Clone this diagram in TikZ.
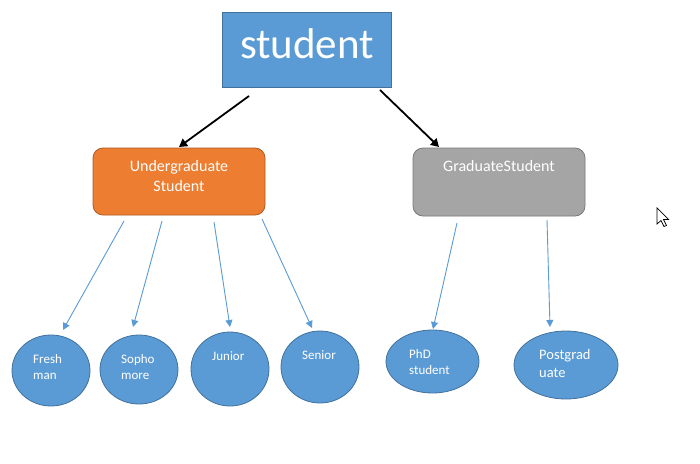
\documentclass[tikz,border=0pt]{standalone}
\usepackage{fontspec}
\setmainfont{Carlito}
\usetikzlibrary{shapes.geometric,arrows.meta}
\definecolor{obl}{HTML}{5B9BD5}
\definecolor{oblb}{HTML}{41719C}
\definecolor{oor}{HTML}{ED7D31}
\definecolor{oorb}{HTML}{AE5A21}
\definecolor{ogr}{HTML}{A5A5A5}
\definecolor{ogrb}{HTML}{787878}
\tikzset{
  ebox/.style={ellipse, draw=oblb, fill=obl, line width=0.8pt, inner sep=0pt},
  etext/.style={text=white, align=left, anchor=west, inner sep=0pt, font=\fontsize{13}{16}\selectfont},
  blarrow/.style={draw=obl, line width=0.9pt, -{Triangle[length=7pt,width=7pt]}},
  bkarrow/.style={draw=black, line width=1.8pt, -{Triangle[length=8pt,width=9pt]}},
}
\begin{document}
\begin{tikzpicture}[x=1pt,y=-1pt]
\useasboundingbox (0,0) rectangle (700,463);
\fill[white] (0,0) rectangle (700,463);
% top box
\node[draw=oblb, fill=obl, line width=0.8pt, minimum width=169pt, minimum height=75pt, inner sep=0pt] (top) at (306.5,49.5) {};
\node[text=white, font=\fontsize{43}{50}\selectfont, anchor=base, inner sep=0pt] (toptxt) at (307,58) {student};
% second level
\node[draw=oorb, fill=oor, line width=0.8pt, rounded corners=10pt, minimum width=172pt, minimum height=67pt, inner sep=0pt] (ug) at (179,181.5) {};
\node[text=white, align=center, font=\fontsize{16}{20}\selectfont, inner sep=0pt] (ugtxt) at (179,176) {Undergraduate\\Student};
\node[draw=ogrb, fill=ogr, line width=0.8pt, rounded corners=10pt, minimum width=172pt, minimum height=68pt, inner sep=0pt] (gr) at (499,182) {};
\node[text=white, font=\fontsize{16}{20}\selectfont, inner sep=0pt, anchor=base] (grtxt) at (499,171) {GraduateStudent};
% ellipses
\node[ebox, minimum width=78pt, minimum height=71pt] (e1) at (51,370.5) {};
\node[ebox, minimum width=78pt, minimum height=69pt] (e2) at (139,369.5) {};
\node[ebox, minimum width=78pt, minimum height=74pt] (e3) at (230,369) {};
\node[ebox, minimum width=78pt, minimum height=72pt] (e4) at (320,367) {};
\node[ebox, minimum width=93pt, minimum height=63pt] (e5) at (432.5,361.5) {};
\node[ebox, minimum width=104pt, minimum height=68pt] (e6) at (566,365) {};
\node[etext] (t1) at (33,367) {Fresh\\man};
\node[etext] (t2) at (121,367) {Sopho\\more};
\node[etext] (t3) at (212,356) {Junior};
\node[etext] (t4) at (302,355) {Senior};
\node[etext] (t5) at (409,362) {PhD\\student};
\node[etext, font=\fontsize{14.5}{18}\selectfont] (t6) at (539,364) {Postgrad\\uate};
% connector end points
\coordinate (a1s) at (249,96);  \coordinate (a1e) at (179,147);
\coordinate (a2s) at (380,90);  \coordinate (a2e) at (439,147);
\coordinate (b1s) at (124,221); \coordinate (b1e) at (63,330);
\coordinate (b2s) at (162,221); \coordinate (b2e) at (133,327);
\coordinate (b3s) at (214,222); \coordinate (b3e) at (230,327);
\coordinate (b4s) at (262,219); \coordinate (b4e) at (312,328);
\coordinate (b5s) at (457,223); \coordinate (b5e) at (433,329);
\coordinate (b6s) at (547,220); \coordinate (b6e) at (550,327);
\draw[bkarrow] (a1s) -- (a1e);
\draw[bkarrow] (a2s) -- (a2e);
\draw[blarrow] (b1s) -- (b1e);
\draw[blarrow] (b2s) -- (b2e);
\draw[blarrow] (b3s) -- (b3e);
\draw[blarrow] (b4s) -- (b4e);
\draw[blarrow] (b5s) -- (b5e);
\draw[blarrow] (b6s) -- (b6e);
% mouse cursor
\draw[fill=white, draw=black, line width=0.7pt, line join=miter]
  (657,208) -- (657,224) -- (661,220.5) -- (664,226.5) -- (666.5,225.5) -- (663.5,219.5) -- (668.5,219.5) -- cycle;
\end{tikzpicture}
\end{document}
